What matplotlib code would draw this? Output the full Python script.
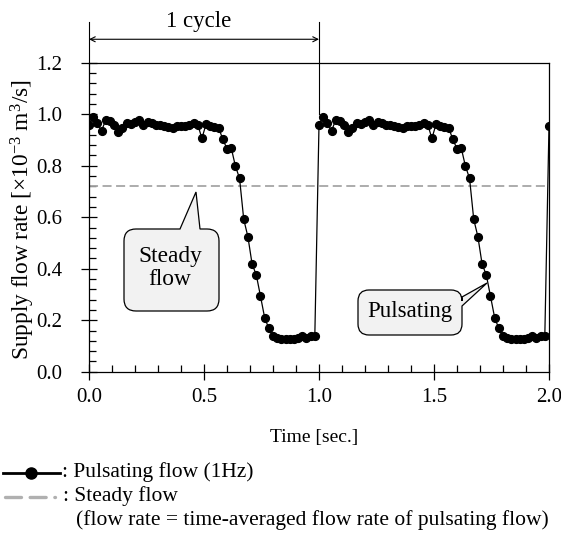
import matplotlib
matplotlib.use("Agg")
import matplotlib.pyplot as plt
import numpy as np
from matplotlib.path import Path
from matplotlib.patches import PathPatch
from matplotlib.lines import Line2D
from matplotlib.ticker import MultipleLocator

plt.rcParams['font.family'] = ['Liberation Serif', 'DejaVu Serif']
plt.rcParams['mathtext.fontset'] = 'custom'
plt.rcParams['mathtext.rm'] = 'Liberation Serif'
plt.rcParams['mathtext.it'] = 'Liberation Serif:italic'

W, H = 561, 541

# one period of the pulsating flow, sampled 55 times per second
cycle_flow = [0.958, 0.988, 0.964, 0.936, 0.977, 0.975, 0.958, 0.930, 0.945, 0.964,
              0.962, 0.971, 0.977, 0.958, 0.971, 0.965, 0.958, 0.957, 0.955, 0.951,
              0.945, 0.955, 0.953, 0.955, 0.958, 0.964, 0.960, 0.906, 0.962, 0.955,
              0.951, 0.948, 0.902, 0.866, 0.870, 0.799, 0.751, 0.592, 0.524, 0.418,
              0.376, 0.294, 0.210, 0.168, 0.139, 0.130, 0.128, 0.128, 0.128, 0.128,
              0.130, 0.138, 0.132, 0.140, 0.139]
end_flow = [0.955]
samples_per_sec = 55
steady_flow = 0.72

x_ticks = [0.0, 0.5, 1.0, 1.5, 2.0]
y_ticks = [0.0, 0.2, 0.4, 0.6, 0.8, 1.0, 1.2]

flow = np.array(cycle_flow + cycle_flow + end_flow)
time = np.arange(len(flow)) / samples_per_sec


def fx(px):
    return px / W


def fy(py):
    return 1 - py / H


def bubble(l, t, r, b, rad, notch, side):
    verts = [(l + rad, t)]
    codes = [Path.MOVETO]
    if side == 'top':
        verts += notch
        codes += [Path.LINETO] * 3
    verts += [(r - rad, t), (r, t), (r, t + rad)]
    codes += [Path.LINETO, Path.CURVE3, Path.CURVE3]
    if side == 'right':
        verts += notch
        codes += [Path.LINETO] * 3
    verts += [(r, b - rad), (r, b), (r - rad, b)]
    codes += [Path.LINETO, Path.CURVE3, Path.CURVE3]
    verts += [(l + rad, b), (l, b), (l, b - rad)]
    codes += [Path.LINETO, Path.CURVE3, Path.CURVE3]
    verts += [(l, t + rad), (l, t), (l + rad, t), (l + rad, t)]
    codes += [Path.LINETO, Path.CURVE3, Path.CURVE3, Path.CLOSEPOLY]
    verts = [(fx(x), fy(y)) for x, y in verts]
    return PathPatch(Path(verts, codes), facecolor='#f2f2f2', edgecolor='black',
                     lw=0.9, transform=fig.transFigure, zorder=5)


fig = plt.figure(figsize=(W / 100, H / 100), dpi=100)
ax = fig.add_axes([fx(89), fy(371.7), (549 - 89) / W, (371.7 - 62.7) / H])

ax.axhline(steady_flow, color='#a6a6a6', lw=1.3, linestyle=(0, (5, 2.5)), zorder=2)
ax.plot(time, flow, color='black', lw=0.9, marker='o', ms=5.6, zorder=3)

ax.set_xlim(0, 2)
ax.set_ylim(0, 1.2)
ax.set_xticks(x_ticks)
ax.set_xticklabels([f'{v:.1f}' for v in x_ticks])
ax.set_yticks(y_ticks)
ax.set_yticklabels([f'{v:.1f}' for v in y_ticks])
ax.xaxis.set_minor_locator(MultipleLocator(0.1))
ax.yaxis.set_minor_locator(MultipleLocator(0.04))
ax.tick_params(which='major', direction='inout', length=11, width=0.9, labelsize=15)
ax.tick_params(which='minor', direction='in', length=5, width=0.9)
ax.tick_params(axis='x', which='major', pad=6)
ax.tick_params(axis='y', which='major', pad=14)
for s in ax.spines.values():
    s.set_linewidth(0.9)

ax.set_xlabel('Time [sec.]', fontsize=14, labelpad=16)
ax.xaxis.label.set_x((314 - 89) / 460)
fig.text(fx(22.5), fy(220), r'Supply flow rate [×10$^{\mathregular{-3}}$ m$^{\mathregular{3}}$/s]',
         rotation=90, ha='center', va='center', fontsize=16.8)

# 1 cycle marker
ax.annotate('', xy=(0, 1.291), xytext=(1.0, 1.291),
            arrowprops=dict(arrowstyle='<->', lw=0.8, shrinkA=0, shrinkB=0,
                            mutation_scale=9),
            annotation_clip=False)
ax.plot([0, 0], [1.2, 1.36], color='black', lw=0.8, clip_on=False)
ax.plot([1, 1], [1.0, 1.36], color='black', lw=0.8, clip_on=False)
fig.text(fx(199), fy(21), '1 cycle', ha='center', va='center', fontsize=16.5)

# callouts
fig.add_artist(bubble(124, 229, 219, 311, 12,
                      [(180, 229), (196, 192), (200, 229)], 'top'))
fig.text(fx(170), fy(268), 'Steady\nflow', ha='center', va='center',
         fontsize=16.8, linespacing=1.15, zorder=6)
fig.add_artist(bubble(358, 290, 462, 335, 11,
                      [(462, 297), (487, 283), (462, 306)], 'right'))
fig.text(fx(410), fy(316.7), 'Pulsating', ha='center', va='baseline',
         fontsize=16.5, zorder=6)

# legend below the chart
fig.add_artist(Line2D([fx(3), fx(60)], [fy(472.7)] * 2, color='black', lw=2,
                      transform=fig.transFigure))
fig.add_artist(Line2D([fx(31)], [fy(472.7)], color='black', marker='o', ms=8,
                      transform=fig.transFigure))
fig.text(fx(62), fy(472), ': Pulsating flow (1Hz)', ha='left', va='center', fontsize=15.5)
fig.add_artist(Line2D([fx(5), fx(55)], [fy(497)] * 2, color='#b0b0b0', lw=2.4,
                      linestyle=(0, (4.8, 2.6)), dash_capstyle='round',
                      transform=fig.transFigure))
fig.text(fx(63), fy(496), ': Steady flow', ha='left', va='center', fontsize=15.5)
fig.text(fx(76), fy(520), '(flow rate = time-averaged flow rate of pulsating flow)',
         ha='left', va='center', fontsize=15.5)

fig.savefig('out.png', dpi=100)
